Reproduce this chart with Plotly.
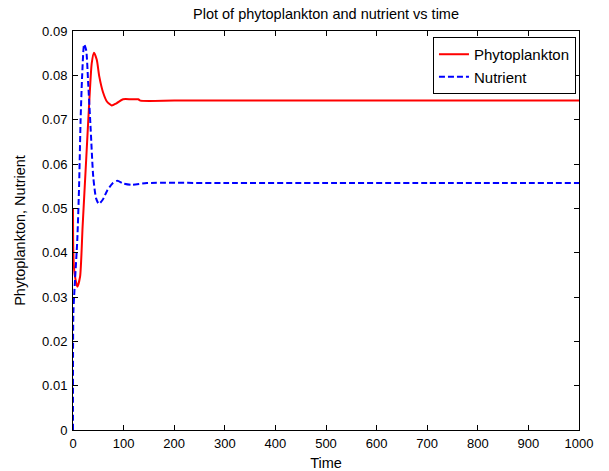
import plotly.graph_objects as go

# Time samples and values of the phytoplankton population
t_phyto = [0, 0.5, 2, 4, 8.5, 14, 19, 26, 32, 37, 41.5, 47, 52, 59, 67, 76.5, 86, 99, 115, 129, 133, 200, 400, 600, 800, 1000]
phyto = [0.050, 0.0410, 0.0365, 0.0346, 0.0323, 0.0346, 0.0459, 0.0609, 0.0737, 0.0827, 0.0851, 0.0835, 0.0797,
         0.0763, 0.0741, 0.0732, 0.0737, 0.0746, 0.0746, 0.0746, 0.0743, 0.0743, 0.0743, 0.0743, 0.0743, 0.0743]

# Time samples and values of the nutrient concentration
t_nutr = [0, 0.7, 4, 8.5, 12, 15, 18, 22, 26, 30, 35, 40, 45.5, 51, 59, 68, 78, 87.5, 99.5, 116, 146, 300, 500, 700, 1000]
nutr = [0.0, 0.0263, 0.0338, 0.0429, 0.0549, 0.0699, 0.0797, 0.0870, 0.0857, 0.0782, 0.0677, 0.0571, 0.0523,
        0.0510, 0.0520, 0.0541, 0.0556, 0.0562, 0.0556, 0.0553, 0.0557, 0.0557, 0.0557, 0.0557, 0.0557]

x_ticks = list(range(0, 1001, 100))
y_ticks = [0, 0.01, 0.02, 0.03, 0.04, 0.05, 0.06, 0.07, 0.08, 0.09]
y_tick_text = ["0", "0.01", "0.02", "0.03", "0.04", "0.05", "0.06", "0.07", "0.08", "0.09"]

FONT = "Liberation Sans, Arial, sans-serif"

fig = go.Figure()
fig.add_trace(go.Scatter(
    x=t_phyto, y=phyto, mode="lines", name="Phytoplankton",
    line=dict(color="#ff0000", width=2, shape="spline", smoothing=0.6),
))
fig.add_trace(go.Scatter(
    x=t_nutr, y=nutr, mode="lines", name="Nutrient",
    line=dict(color="#0000ff", width=2, dash="6px,3px", shape="spline", smoothing=0.6),
))

axis_common = dict(
    showline=True, linecolor="black", linewidth=1, mirror="ticks",
    ticks="inside", ticklen=5, tickwidth=1, tickcolor="black",
    showgrid=False, zeroline=False, automargin=False,
    tickfont=dict(family=FONT, size=13, color="black"),
)

fig.update_layout(
    width=609, height=471,
    margin=dict(l=73, r=30, t=31, b=41),
    paper_bgcolor="white", plot_bgcolor="white",
    font=dict(family=FONT, size=13, color="black"),
    title=dict(text="Plot of phytoplankton and nutrient vs time", x=0.5, xref="paper",
               y=1 - 14 / 471, yanchor="middle", font=dict(family=FONT, size=14.5)),
    xaxis=dict(range=[0, 1000], tickvals=x_ticks, ticklabelstandoff=1,
               title=dict(text="Time", standoff=12, font=dict(family=FONT, size=14.5)),
               **axis_common),
    yaxis=dict(range=[0, 0.09], tickvals=y_ticks, ticktext=y_tick_text, ticklabelstandoff=2,
               title=dict(text="Phytoplankton, Nutrient", standoff=13, font=dict(family=FONT, size=14.5)),
               **axis_common),
    legend=dict(x=0.994, y=0.985, xanchor="right", yanchor="top",
                bordercolor="black", borderwidth=1, bgcolor="white",
                font=dict(family=FONT, size=15), tracegroupgap=0),
    showlegend=True,
)

fig.write_html("out.html")
